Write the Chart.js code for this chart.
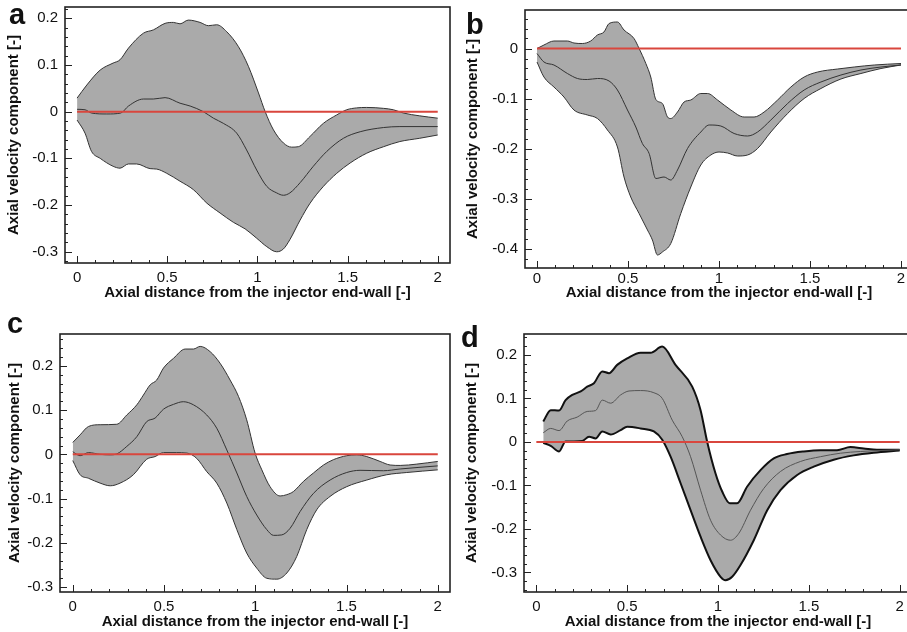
<!DOCTYPE html>
<html>
<head>
<meta charset="utf-8">
<script src="https://cdn.jsdelivr.net/npm/chart.js@4"></script>
<style>
  html, body { margin: 0; padding: 0; background: #fff; }
  #page { position: relative; width: 907px; height: 632px; overflow: hidden; }
  #page canvas { position: absolute; }
  .letter { position: absolute; font: bold 29px "Liberation Sans", Arial, sans-serif; color: #111; line-height: 1; }
</style>
</head>
<body>
<div id="page">
  <canvas id="chartA" width="454" height="310" style="left:0;top:0"></canvas>
  <canvas id="chartB" width="462" height="310" style="left:454px;top:0"></canvas>
  <canvas id="chartC" width="454" height="322" style="left:0;top:310px"></canvas>
  <canvas id="chartD" width="462" height="322" style="left:454px;top:310px"></canvas>
  <div class="letter" style="left:9px;top:0px">a</div>
  <div class="letter" style="left:466px;top:10px">b</div>
  <div class="letter" style="left:7px;top:309px">c</div>
  <div class="letter" style="left:461px;top:323px">d</div>
</div>
<script>
// tick labels
const xTicks = [0, 0.5, 1, 1.5, 2];
const yTicksA = [-0.3, -0.2, -0.1, 0, 0.1, 0.2];
const yTicksB = [-0.4, -0.3, -0.2, -0.1, 0];
const yTicksC = [-0.3, -0.2, -0.1, 0, 0.1, 0.2];
const yTicksD = [-0.3, -0.2, -0.1, 0, 0.1, 0.2];

// reference line at zero
const zeroLine = [[0, 0], [2, 0]];
const zeroLineD = [[0, 0], [2, 0]];

// panel a  [x, velocity]
const aUpper = [[0,0.029],[0.054,0.057],[0.128,0.089],[0.2,0.104],[0.238,0.111],[0.285,0.136],[0.368,0.168],[0.423,0.175],[0.488,0.189],[0.534,0.191],[0.571,0.188],[0.617,0.196],[0.682,0.191],[0.728,0.184],[0.774,0.186],[0.83,0.171],[0.895,0.139],[0.95,0.097],[1.006,0.04],[1.043,0.0],[1.089,-0.039],[1.144,-0.067],[1.19,-0.076],[1.227,-0.075],[1.292,-0.053],[1.366,-0.025],[1.44,-0.007],[1.495,0.004],[1.55,0.008],[1.606,0.009],[1.7,0.007],[1.754,0.004],[1.81,-0.003],[1.9,-0.009],[2.0,-0.014]];
const aMean = [[0,0.005],[0.044,0.004],[0.08,-0.003],[0.165,-0.005],[0.242,-0.003],[0.285,0.012],[0.368,0.027],[0.423,0.027],[0.488,0.03],[0.571,0.018],[0.627,0.012],[0.7,0.0],[0.756,-0.014],[0.811,-0.025],[0.885,-0.046],[0.94,-0.082],[0.996,-0.125],[1.052,-0.16],[1.107,-0.174],[1.144,-0.179],[1.18,-0.174],[1.237,-0.152],[1.31,-0.117],[1.385,-0.085],[1.477,-0.057],[1.57,-0.043],[1.7,-0.034],[1.79,-0.032],[2.0,-0.032]];
const aLower = [[0,-0.018],[0.044,-0.046],[0.08,-0.085],[0.128,-0.1],[0.2,-0.117],[0.238,-0.121],[0.285,-0.112],[0.33,-0.112],[0.405,-0.122],[0.442,-0.123],[0.497,-0.132],[0.571,-0.149],[0.645,-0.167],[0.72,-0.196],[0.793,-0.217],[0.867,-0.237],[0.932,-0.251],[0.996,-0.271],[1.052,-0.289],[1.107,-0.3],[1.144,-0.294],[1.18,-0.274],[1.237,-0.232],[1.292,-0.196],[1.366,-0.16],[1.44,-0.132],[1.514,-0.11],[1.606,-0.089],[1.7,-0.075],[1.79,-0.064],[1.9,-0.057],[2.0,-0.05]];

// panel b
const bUpper = [[0,0],[0.038,0.007],[0.093,0.015],[0.167,0.015],[0.203,0.011],[0.249,0.01],[0.295,0.015],[0.332,0.027],[0.368,0.033],[0.396,0.05],[0.442,0.053],[0.478,0.037],[0.533,0.02],[0.561,0.0],[0.598,-0.03],[0.625,-0.057],[0.653,-0.102],[0.689,-0.11],[0.717,-0.137],[0.735,-0.14],[0.772,-0.127],[0.808,-0.107],[0.845,-0.103],[0.9,-0.09],[0.937,-0.09],[0.992,-0.103],[1.065,-0.123],[1.138,-0.137],[1.193,-0.137],[1.248,-0.127],[1.322,-0.103],[1.395,-0.077],[1.468,-0.057],[1.542,-0.047],[1.652,-0.041],[1.743,-0.037],[1.853,-0.033],[2.0,-0.03]];
const bMean = [[0,-0.01],[0.038,-0.027],[0.093,-0.033],[0.167,-0.05],[0.222,-0.06],[0.277,-0.062],[0.332,-0.06],[0.396,-0.065],[0.442,-0.083],[0.497,-0.123],[0.543,-0.157],[0.579,-0.19],[0.616,-0.21],[0.653,-0.26],[0.698,-0.257],[0.735,-0.263],[0.772,-0.243],[0.827,-0.2],[0.9,-0.167],[0.946,-0.153],[1.01,-0.155],[1.083,-0.17],[1.157,-0.175],[1.212,-0.167],[1.285,-0.143],[1.377,-0.11],[1.468,-0.083],[1.56,-0.067],[1.67,-0.053],[1.78,-0.043],[1.89,-0.037],[2.0,-0.033]];
const bLower = [[0,-0.027],[0.038,-0.057],[0.093,-0.077],[0.148,-0.097],[0.203,-0.123],[0.277,-0.133],[0.332,-0.14],[0.387,-0.163],[0.442,-0.197],[0.478,-0.257],[0.515,-0.297],[0.561,-0.33],[0.607,-0.363],[0.634,-0.383],[0.662,-0.413],[0.689,-0.407],[0.735,-0.39],[0.79,-0.33],[0.845,-0.277],[0.9,-0.233],[0.955,-0.213],[1.0,-0.207],[1.047,-0.209],[1.102,-0.215],[1.157,-0.213],[1.212,-0.2],[1.285,-0.167],[1.377,-0.13],[1.468,-0.1],[1.56,-0.08],[1.67,-0.061],[1.78,-0.05],[1.89,-0.04],[2.0,-0.033]];

// panel c
const cUpper = [[0,0.027],[0.04,0.044],[0.086,0.063],[0.15,0.067],[0.241,0.068],[0.296,0.089],[0.351,0.112],[0.387,0.134],[0.424,0.157],[0.46,0.168],[0.497,0.195],[0.552,0.217],[0.616,0.238],[0.661,0.238],[0.698,0.244],[0.753,0.232],[0.807,0.206],[0.862,0.168],[0.908,0.131],[0.953,0.078],[0.999,0.003],[1.036,-0.035],[1.081,-0.073],[1.136,-0.094],[1.173,-0.091],[1.209,-0.084],[1.264,-0.061],[1.319,-0.042],[1.374,-0.024],[1.428,-0.012],[1.501,-0.003],[1.556,-0.001],[1.611,-0.005],[1.684,-0.016],[1.739,-0.024],[1.794,-0.025],[1.885,-0.022],[2.0,-0.016]];
const cMean = [[0,0.006],[0.04,-0.003],[0.086,0.004],[0.15,0.0],[0.205,-0.001],[0.241,0.001],[0.296,0.018],[0.351,0.04],[0.405,0.074],[0.451,0.082],[0.497,0.102],[0.552,0.113],[0.606,0.119],[0.661,0.112],[0.734,0.089],[0.789,0.059],[0.844,0.01],[0.899,-0.042],[0.953,-0.095],[1.008,-0.137],[1.063,-0.17],[1.1,-0.183],[1.145,-0.182],[1.191,-0.167],[1.246,-0.129],[1.319,-0.088],[1.41,-0.058],[1.501,-0.041],[1.574,-0.036],[1.702,-0.037],[1.794,-0.033],[2.0,-0.026]];
const cLower = [[0,-0.014],[0.04,-0.046],[0.086,-0.054],[0.15,-0.065],[0.205,-0.071],[0.259,-0.065],[0.332,-0.046],[0.405,-0.011],[0.451,-0.005],[0.497,0.004],[0.57,0.004],[0.625,0.003],[0.679,-0.009],[0.734,-0.039],[0.789,-0.065],[0.844,-0.11],[0.899,-0.17],[0.953,-0.223],[1.008,-0.257],[1.063,-0.28],[1.118,-0.282],[1.173,-0.268],[1.227,-0.231],[1.282,-0.17],[1.337,-0.125],[1.41,-0.095],[1.501,-0.073],[1.611,-0.058],[1.721,-0.046],[1.83,-0.041],[2.0,-0.035]];

// panel d
const dUpper = [[0.038,0.047],[0.079,0.073],[0.125,0.072],[0.161,0.096],[0.198,0.108],[0.244,0.116],[0.28,0.127],[0.317,0.135],[0.363,0.162],[0.4,0.158],[0.445,0.177],[0.5,0.192],[0.574,0.205],[0.629,0.205],[0.693,0.219],[0.766,0.177],[0.858,0.127],[0.904,0.073],[0.94,0.001],[0.986,-0.072],[1.023,-0.114],[1.065,-0.141],[1.105,-0.141],[1.16,-0.103],[1.234,-0.065],[1.307,-0.038],[1.38,-0.028],[1.472,-0.022],[1.564,-0.019],[1.655,-0.019],[1.729,-0.012],[1.802,-0.015],[1.875,-0.018],[2.0,-0.018]];
const dMean = [[0.038,0.021],[0.079,0.031],[0.125,0.026],[0.17,0.048],[0.225,0.057],[0.28,0.07],[0.326,0.072],[0.363,0.096],[0.409,0.089],[0.464,0.108],[0.51,0.117],[0.574,0.118],[0.647,0.113],[0.693,0.1],[0.748,0.05],[0.803,0.012],[0.849,-0.034],[0.904,-0.111],[0.959,-0.18],[1.014,-0.214],[1.069,-0.226],[1.115,-0.21],[1.179,-0.157],[1.252,-0.107],[1.344,-0.068],[1.454,-0.045],[1.564,-0.034],[1.674,-0.026],[1.784,-0.022],[2.0,-0.018]];
const dLower = [[0.038,-0.002],[0.079,-0.009],[0.125,-0.022],[0.161,0.001],[0.207,0.001],[0.253,0.002],[0.29,0.012],[0.326,0.008],[0.363,0.024],[0.409,0.017],[0.464,0.027],[0.5,0.035],[0.574,0.031],[0.647,0.024],[0.693,0.005],[0.739,-0.034],[0.794,-0.095],[0.849,-0.157],[0.904,-0.218],[0.959,-0.272],[1.014,-0.31],[1.041,-0.318],[1.078,-0.31],[1.124,-0.283],[1.197,-0.226],[1.271,-0.157],[1.344,-0.111],[1.436,-0.076],[1.527,-0.057],[1.637,-0.041],[1.747,-0.031],[1.857,-0.025],[2.0,-0.02]];

const FONT = '"Liberation Sans", Arial, Helvetica, sans-serif';
const pts = arr => arr.map(p => ({x: p[0], y: p[1]}));
const fmt = v => String(Math.round(v * 100) / 100);

// frame box + inward major/minor ticks on left and bottom
const frameTicks = {
  id: 'frameTicks',
  afterDatasetsDraw(chart) {
    const {ctx, chartArea: a, scales: {x, y}} = chart;
    ctx.save();
    ctx.strokeStyle = '#222';
    ctx.lineWidth = 1;
    ctx.beginPath();
    for (let i = Math.ceil(x.min / 0.1); i <= Math.floor(x.max / 0.1); i++) {
      const px = Math.round(x.getPixelForValue(i * 0.1)) + 0.5;
      const len = i % 5 === 0 ? 7 : 3;
      ctx.moveTo(px, a.bottom);
      ctx.lineTo(px, a.bottom - len);
    }
    for (let k = Math.ceil(y.min / 0.02 - 1e-6); k <= Math.floor(y.max / 0.02 + 1e-6); k++) {
      const py = Math.round(y.getPixelForValue(k * 0.02)) + 0.5;
      const len = k % 5 === 0 ? 7 : 3;
      ctx.moveTo(a.left, py);
      ctx.lineTo(a.left + len, py);
    }
    ctx.stroke();
    ctx.lineWidth = 1.6;
    ctx.strokeRect(a.left, a.top, a.right - a.left, a.bottom - a.top);
    ctx.restore();
  }
};

function makePanel(id, p) {
  const line = (data, color, width) => ({
    data: pts(data), borderColor: color, borderWidth: width,
    pointRadius: 0, fill: false, cubicInterpolationMode: 'monotone'
  });
  const upper = line(p.upper, p.edge, p.edgeWidth);
  upper.fill = 3;
  upper.backgroundColor = '#aaaaaa';
  const zero = line(p.zero, '#d9463d', 2);

  return new Chart(document.getElementById(id), {
    type: 'line',
    data: {
      datasets: [zero, line(p.mean, p.meanColor, 1), upper, line(p.lower, p.edge, p.edgeWidth)]
    },
    plugins: [frameTicks],
    options: {
      responsive: false,
      animation: false,
      layout: { autoPadding: false, padding: { left: 0, top: p.top, right: p.right, bottom: 0 } },
      plugins: {
        legend: { display: false },
        tooltip: { enabled: false },
        filler: { drawTime: 'beforeDatasetsDraw' }
      },
      scales: {
        x: {
          type: 'linear',
          min: p.xMin, max: p.xMax,
          grid: { display: false, drawTicks: false },
          border: { display: false },
          afterBuildTicks: s => { s.ticks = xTicks.map(v => ({value: v})); },
          afterFit: s => { s.height = p.xAxisH; s.paddingLeft = 0; s.paddingRight = 0; },
          ticks: { font: { family: FONT, size: 15 }, color: '#111', padding: p.xTickPad, maxRotation: 0, callback: fmt },
          title: {
            display: true, text: 'Axial distance from the injector end-wall [-]',
            font: { family: FONT, size: 15, weight: 'bold' }, color: '#111',
            padding: { top: 0, bottom: p.xTitlePad }
          }
        },
        y: {
          type: 'linear',
          min: p.yMin, max: p.yMax,
          grid: { display: false, drawTicks: false },
          border: { display: false },
          afterBuildTicks: s => { s.ticks = p.yTicks.map(v => ({value: v})); },
          afterFit: s => { s.width = p.yAxisW; s.paddingTop = 0; s.paddingBottom = 0; },
          ticks: { font: { family: FONT, size: 15 }, color: '#111', padding: 7, callback: fmt },
          title: {
            display: true, text: 'Axial velocity component [-]',
            font: { family: FONT, size: 15, weight: 'bold' }, color: '#111',
            padding: { top: p.yTitlePad, bottom: 0 }
          }
        }
      }
    }
  });
}

const thin = { edge: '#333', edgeWidth: 1, meanColor: '#333' };

makePanel('chartA', Object.assign({
  upper: aUpper, mean: aMean, lower: aLower, zero: zeroLine, yTicks: yTicksA,
  xMin: -0.067, xMax: 2.068, yMin: -0.324, yMax: 0.224,
  top: 7, right: 4, yAxisW: 65, xAxisH: 47, xTickPad: 6, xTitlePad: 8, yTitlePad: 5
}, thin));

makePanel('chartB', Object.assign({
  upper: bUpper, mean: bMean, lower: bLower, zero: zeroLine, yTicks: yTicksB,
  xMin: -0.066, xMax: 2.066, yMin: -0.439, yMax: 0.077,
  top: 10, right: 3, yAxisW: 71, xAxisH: 42, xTickPad: 2, xTitlePad: 8, yTitlePad: 10
}, thin));

makePanel('chartC', Object.assign({
  upper: cUpper, mean: cMean, lower: cLower, zero: zeroLine, yTicks: yTicksC,
  xMin: -0.07, xMax: 2.067, yMin: -0.311, yMax: 0.272,
  top: 24, right: 4, yAxisW: 60, xAxisH: 40, xTickPad: 6, xTitlePad: 1, yTitlePad: 6
}, thin));

makePanel('chartD', {
  upper: dUpper, mean: dMean, lower: dLower, zero: zeroLineD, yTicks: yTicksD,
  edge: '#111', edgeWidth: 2, meanColor: '#555',
  xMin: -0.068, xMax: 2.068, yMin: -0.345, yMax: 0.248,
  top: 24, right: 4, yAxisW: 70, xAxisH: 40, xTickPad: 6, xTitlePad: 1, yTitlePad: 9
});
</script>
</body>
</html>
